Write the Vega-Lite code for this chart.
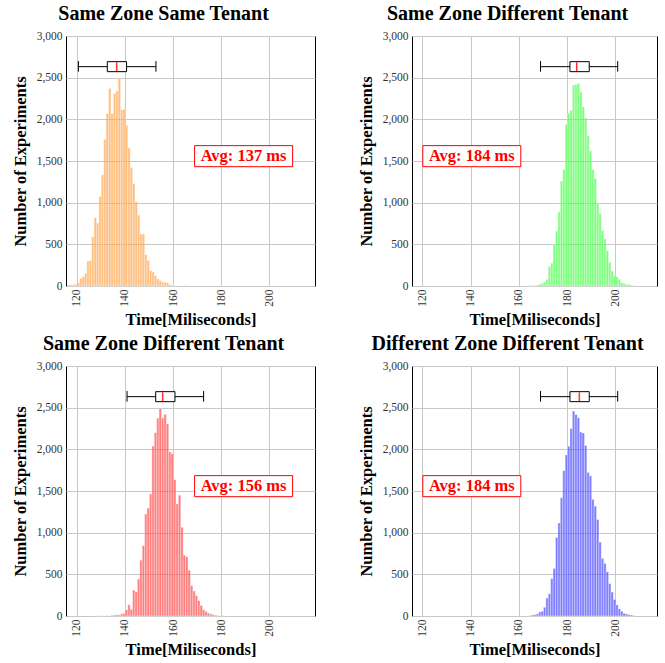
{
  "$schema": "https://vega.github.io/schema/vega-lite/v6.json",
  "padding": {"left": 11, "top": 3, "right": 5, "bottom": 2},
  "background": "white",
  "config": {
    "view": {"stroke": "black", "strokeWidth": 1},
    "bar": {"binSpacing": 0, "fillOpacity": 0.5, "stroke": "white", "strokeWidth": 0.5, "strokeOpacity": 0.7},
    "axis": {"grid": true, "gridColor": "#c8c8c8", "gridWidth": 1, "domain": false, "ticks": false,
      "labelFont": "Liberation Serif", "labelFontSize": 11.5, "labelColor": "#333333",
      "titleFont": "Liberation Serif", "titleFontSize": 16.5, "titleFontWeight": "bold", "titleColor": "black"},
    "title": {"font": "Liberation Serif", "fontSize": 20, "fontWeight": "bold", "color": "black", "frame": "bounds", "anchor": "middle", "offset": 6}
  },
  "datasets": {
    "hist": [
      {"p":"A","t":116,"n":15},{"p":"A","t":117,"n":15},{"p":"A","t":118,"n":15},{"p":"A","t":119,"n":20},{"p":"A","t":120,"n":40},{"p":"A","t":121,"n":90},{"p":"A","t":122,"n":110},{"p":"A","t":123,"n":150},{"p":"A","t":124,"n":300},{"p":"A","t":125,"n":305},{"p":"A","t":126,"n":590},{"p":"A","t":127,"n":820},{"p":"A","t":128,"n":755},{"p":"A","t":129,"n":1075},{"p":"A","t":130,"n":1335},{"p":"A","t":131,"n":1760},{"p":"A","t":132,"n":2070},{"p":"A","t":133,"n":2370},{"p":"A","t":134,"n":2070},{"p":"A","t":135,"n":2310},{"p":"A","t":136,"n":2340},{"p":"A","t":137,"n":2490},{"p":"A","t":138,"n":2115},{"p":"A","t":139,"n":2120},{"p":"A","t":140,"n":1930},{"p":"A","t":141,"n":1660},{"p":"A","t":142,"n":1420},{"p":"A","t":143,"n":1230},{"p":"A","t":144,"n":1010},{"p":"A","t":145,"n":850},{"p":"A","t":146,"n":625},{"p":"A","t":147,"n":625},{"p":"A","t":148,"n":375},{"p":"A","t":149,"n":305},{"p":"A","t":150,"n":185},{"p":"A","t":151,"n":170},{"p":"A","t":152,"n":125},{"p":"A","t":153,"n":85},{"p":"A","t":154,"n":65},{"p":"A","t":155,"n":45},{"p":"A","t":156,"n":45},{"p":"A","t":157,"n":40},{"p":"A","t":158,"n":20},{"p":"A","t":159,"n":10},{"p":"A","t":160,"n":5},{"p":"A","t":165,"n":10},
      {"p":"B","t":164,"n":5},{"p":"B","t":165,"n":6},{"p":"B","t":166,"n":8},{"p":"B","t":167,"n":12},{"p":"B","t":168,"n":20},{"p":"B","t":169,"n":32},{"p":"B","t":170,"n":48},{"p":"B","t":171,"n":80},{"p":"B","t":172,"n":235},{"p":"B","t":173,"n":275},{"p":"B","t":174,"n":500},{"p":"B","t":175,"n":660},{"p":"B","t":176,"n":890},{"p":"B","t":177,"n":1260},{"p":"B","t":178,"n":1400},{"p":"B","t":179,"n":1940},{"p":"B","t":180,"n":2070},{"p":"B","t":181,"n":2110},{"p":"B","t":182,"n":2410},{"p":"B","t":183,"n":2420},{"p":"B","t":184,"n":2430},{"p":"B","t":185,"n":2330},{"p":"B","t":186,"n":2150},{"p":"B","t":187,"n":2015},{"p":"B","t":188,"n":1800},{"p":"B","t":189,"n":1620},{"p":"B","t":190,"n":1395},{"p":"B","t":191,"n":1290},{"p":"B","t":192,"n":990},{"p":"B","t":193,"n":870},{"p":"B","t":194,"n":665},{"p":"B","t":195,"n":565},{"p":"B","t":196,"n":425},{"p":"B","t":197,"n":285},{"p":"B","t":198,"n":180},{"p":"B","t":199,"n":120},{"p":"B","t":200,"n":110},{"p":"B","t":201,"n":80},{"p":"B","t":202,"n":40},{"p":"B","t":203,"n":32},{"p":"B","t":204,"n":20},{"p":"B","t":205,"n":20},{"p":"B","t":206,"n":10},{"p":"B","t":207,"n":5},{"p":"B","t":208,"n":3},
      {"p":"C","t":128,"n":3},{"p":"C","t":130,"n":3},{"p":"C","t":132,"n":5},{"p":"C","t":134,"n":8},{"p":"C","t":135,"n":10},{"p":"C","t":136,"n":15},{"p":"C","t":137,"n":12},{"p":"C","t":138,"n":25},{"p":"C","t":139,"n":30},{"p":"C","t":140,"n":75},{"p":"C","t":141,"n":135},{"p":"C","t":142,"n":80},{"p":"C","t":143,"n":310},{"p":"C","t":144,"n":290},{"p":"C","t":145,"n":445},{"p":"C","t":146,"n":670},{"p":"C","t":147,"n":845},{"p":"C","t":148,"n":1225},{"p":"C","t":149,"n":1295},{"p":"C","t":150,"n":1465},{"p":"C","t":151,"n":2040},{"p":"C","t":152,"n":2200},{"p":"C","t":153,"n":2375},{"p":"C","t":154,"n":2490},{"p":"C","t":155,"n":2375},{"p":"C","t":156,"n":2420},{"p":"C","t":157,"n":2305},{"p":"C","t":158,"n":1970},{"p":"C","t":159,"n":1950},{"p":"C","t":160,"n":1635},{"p":"C","t":161,"n":1345},{"p":"C","t":162,"n":1450},{"p":"C","t":163,"n":1065},{"p":"C","t":164,"n":730},{"p":"C","t":165,"n":710},{"p":"C","t":166,"n":550},{"p":"C","t":167,"n":365},{"p":"C","t":168,"n":300},{"p":"C","t":169,"n":245},{"p":"C","t":170,"n":185},{"p":"C","t":171,"n":125},{"p":"C","t":172,"n":75},{"p":"C","t":173,"n":55},{"p":"C","t":174,"n":35},{"p":"C","t":175,"n":25},{"p":"C","t":176,"n":15},{"p":"C","t":177,"n":10},{"p":"C","t":178,"n":5},{"p":"C","t":180,"n":5},
      {"p":"D","t":164,"n":5},{"p":"D","t":165,"n":12},{"p":"D","t":166,"n":16},{"p":"D","t":167,"n":24},{"p":"D","t":168,"n":49},{"p":"D","t":169,"n":57},{"p":"D","t":170,"n":105},{"p":"D","t":171,"n":215},{"p":"D","t":172,"n":267},{"p":"D","t":173,"n":449},{"p":"D","t":174,"n":570},{"p":"D","t":175,"n":942},{"p":"D","t":176,"n":1116},{"p":"D","t":177,"n":1419},{"p":"D","t":178,"n":1743},{"p":"D","t":179,"n":1933},{"p":"D","t":180,"n":2038},{"p":"D","t":181,"n":2248},{"p":"D","t":182,"n":2459},{"p":"D","t":183,"n":2418},{"p":"D","t":184,"n":2378},{"p":"D","t":185,"n":2208},{"p":"D","t":186,"n":2196},{"p":"D","t":187,"n":2046},{"p":"D","t":188,"n":1723},{"p":"D","t":189,"n":1682},{"p":"D","t":190,"n":1399},{"p":"D","t":191,"n":1318},{"p":"D","t":192,"n":1157},{"p":"D","t":193,"n":886},{"p":"D","t":194,"n":691},{"p":"D","t":195,"n":631},{"p":"D","t":196,"n":530},{"p":"D","t":197,"n":388},{"p":"D","t":198,"n":287},{"p":"D","t":199,"n":198},{"p":"D","t":200,"n":133},{"p":"D","t":201,"n":85},{"p":"D","t":202,"n":57},{"p":"D","t":203,"n":32},{"p":"D","t":204,"n":24},{"p":"D","t":205,"n":16},{"p":"D","t":206,"n":12},{"p":"D","t":207,"n":5}
    ],
    "box": [
      {"p":"A","lo":120.7,"q1":132.7,"med":136.6,"q3":140.7,"hi":152.9},
      {"p":"B","lo":169,"q1":181.2,"med":184,"q3":189.2,"hi":201},
      {"p":"C","lo":140.9,"q1":152.8,"med":155.7,"q3":160.8,"hi":172.7},
      {"p":"D","lo":169,"q1":181.2,"med":185.1,"q3":189.2,"hi":201}
    ],
    "avg": [
      {"p":"A","label":"Avg: 137 ms"},
      {"p":"B","label":"Avg: 184 ms"},
      {"p":"C","label":"Avg: 156 ms"},
      {"p":"D","label":"Avg: 184 ms"}
    ]
  },
  "columns": 2,
  "spacing": {"row": 4, "column": 41},
  "concat": [
    {
      "title": "Same Zone Same Tenant",
      "width": 249, "height": 250,
      "layer": [
        {"data": {"name": "hist"}, "transform": [{"filter": "datum.p === 'A'"}],
         "mark": {"type": "bar", "fill": "#ff8000"},
         "encoding": {
           "x": {"field": "t", "type": "quantitative", "bin": {"binned": true, "step": 1}, "title": "Time[Miliseconds]",
                 "scale": {"domain": [115.55, 218.95], "nice": false, "zero": false},
                 "axis": {"values": [120,140,160,180,200], "labelAngle": -90, "labelPadding": 3, "titlePadding": 5}},
           "y": {"field": "n", "type": "quantitative", "title": "Number of Experiments",
                 "scale": {"domain": [0, 3000], "nice": false},
                 "axis": {"values": [0,500,1000,1500,2000,2500,3000], "format": ",.0f", "labelPadding": 4, "titlePadding": 8}}
         }},
        {"data": {"name": "box"}, "transform": [{"filter": "datum.p === 'A'"}],
         "mark": {"type": "rule", "color": "black", "strokeWidth": 1},
         "encoding": {"x": {"field": "lo", "type": "quantitative"}, "x2": {"field": "hi"}, "y": {"datum": 2632}}},
        {"data": {"name": "box"}, "transform": [{"filter": "datum.p === 'A'"}],
         "mark": {"type": "rule", "color": "black", "strokeWidth": 1},
         "encoding": {"x": {"field": "lo", "type": "quantitative"}, "y": {"datum": 2572}, "y2": {"datum": 2700}}},
        {"data": {"name": "box"}, "transform": [{"filter": "datum.p === 'A'"}],
         "mark": {"type": "rule", "color": "black", "strokeWidth": 1},
         "encoding": {"x": {"field": "hi", "type": "quantitative"}, "y": {"datum": 2572}, "y2": {"datum": 2700}}},
        {"data": {"name": "box"}, "transform": [{"filter": "datum.p === 'A'"}],
         "mark": {"type": "rect", "fill": "white", "stroke": "black", "strokeWidth": 1},
         "encoding": {"x": {"field": "q1", "type": "quantitative"}, "x2": {"field": "q3"}, "y": {"datum": 2572}, "y2": {"datum": 2692}}},
        {"data": {"name": "box"}, "transform": [{"filter": "datum.p === 'A'"}],
         "mark": {"type": "rule", "color": "#ff3030", "strokeWidth": 1.5},
         "encoding": {"x": {"field": "med", "type": "quantitative"}, "y": {"datum": 2580}, "y2": {"datum": 2685}}},
        {"data": {"name": "avg"}, "transform": [{"filter": "datum.p === 'A'"}],
         "mark": {"type": "point", "shape": "M-1,-0.215L1,-0.215L1,0.215L-1,0.215Z", "size": 9604, "fill": "white", "stroke": "red", "strokeWidth": 1, "opacity": 1, "fillOpacity": 1},
         "encoding": {"x": {"datum": 189.3}, "y": {"datum": 1558}}},
        {"data": {"name": "avg"}, "transform": [{"filter": "datum.p === 'A'"}],
         "mark": {"type": "text", "color": "red", "font": "Liberation Serif", "fontSize": 16.5, "fontWeight": "bold", "align": "center", "baseline": "middle"},
         "encoding": {"x": {"datum": 189.3}, "y": {"datum": 1558}, "text": {"field": "label"}}}
      ]
    },
    {
      "title": "Same Zone Different Tenant",
      "width": 245, "height": 250,
      "layer": [
        {"data": {"name": "hist"}, "transform": [{"filter": "datum.p === 'B'"}],
         "mark": {"type": "bar", "fill": "#00ff00"},
         "encoding": {
           "x": {"field": "t", "type": "quantitative", "bin": {"binned": true, "step": 1}, "title": "Time[Miliseconds]",
                 "scale": {"domain": [115.7, 217.3], "nice": false, "zero": false},
                 "axis": {"values": [120,140,160,180,200], "labelAngle": -90, "labelPadding": 3, "titlePadding": 5}},
           "y": {"field": "n", "type": "quantitative", "title": "Number of Experiments",
                 "scale": {"domain": [0, 3000], "nice": false},
                 "axis": {"values": [0,500,1000,1500,2000,2500,3000], "format": ",.0f", "labelPadding": 4, "titlePadding": 8}}
         }},
        {"data": {"name": "box"}, "transform": [{"filter": "datum.p === 'B'"}],
         "mark": {"type": "rule", "color": "black", "strokeWidth": 1},
         "encoding": {"x": {"field": "lo", "type": "quantitative"}, "x2": {"field": "hi"}, "y": {"datum": 2632}}},
        {"data": {"name": "box"}, "transform": [{"filter": "datum.p === 'B'"}],
         "mark": {"type": "rule", "color": "black", "strokeWidth": 1},
         "encoding": {"x": {"field": "lo", "type": "quantitative"}, "y": {"datum": 2572}, "y2": {"datum": 2700}}},
        {"data": {"name": "box"}, "transform": [{"filter": "datum.p === 'B'"}],
         "mark": {"type": "rule", "color": "black", "strokeWidth": 1},
         "encoding": {"x": {"field": "hi", "type": "quantitative"}, "y": {"datum": 2572}, "y2": {"datum": 2700}}},
        {"data": {"name": "box"}, "transform": [{"filter": "datum.p === 'B'"}],
         "mark": {"type": "rect", "fill": "white", "stroke": "black", "strokeWidth": 1},
         "encoding": {"x": {"field": "q1", "type": "quantitative"}, "x2": {"field": "q3"}, "y": {"datum": 2572}, "y2": {"datum": 2692}}},
        {"data": {"name": "box"}, "transform": [{"filter": "datum.p === 'B'"}],
         "mark": {"type": "rule", "color": "#ff3030", "strokeWidth": 1.5},
         "encoding": {"x": {"field": "med", "type": "quantitative"}, "y": {"datum": 2580}, "y2": {"datum": 2685}}},
        {"data": {"name": "avg"}, "transform": [{"filter": "datum.p === 'B'"}],
         "mark": {"type": "point", "shape": "M-1,-0.215L1,-0.215L1,0.215L-1,0.215Z", "size": 9604, "fill": "white", "stroke": "red", "strokeWidth": 1, "opacity": 1, "fillOpacity": 1},
         "encoding": {"x": {"datum": 140.5}, "y": {"datum": 1558}}},
        {"data": {"name": "avg"}, "transform": [{"filter": "datum.p === 'B'"}],
         "mark": {"type": "text", "color": "red", "font": "Liberation Serif", "fontSize": 16.5, "fontWeight": "bold", "align": "center", "baseline": "middle"},
         "encoding": {"x": {"datum": 140.5}, "y": {"datum": 1558}, "text": {"field": "label"}}}
      ]
    },
    {
      "title": "Same Zone Different Tenant",
      "width": 249, "height": 250,
      "layer": [
        {"data": {"name": "hist"}, "transform": [{"filter": "datum.p === 'C'"}],
         "mark": {"type": "bar", "fill": "#ff0000"},
         "encoding": {
           "x": {"field": "t", "type": "quantitative", "bin": {"binned": true, "step": 1}, "title": "Time[Miliseconds]",
                 "scale": {"domain": [115.55, 218.95], "nice": false, "zero": false},
                 "axis": {"values": [120,140,160,180,200], "labelAngle": -90, "labelPadding": 3, "titlePadding": 5}},
           "y": {"field": "n", "type": "quantitative", "title": "Number of Experiments",
                 "scale": {"domain": [0, 3000], "nice": false},
                 "axis": {"values": [0,500,1000,1500,2000,2500,3000], "format": ",.0f", "labelPadding": 4, "titlePadding": 8}}
         }},
        {"data": {"name": "box"}, "transform": [{"filter": "datum.p === 'C'"}],
         "mark": {"type": "rule", "color": "black", "strokeWidth": 1},
         "encoding": {"x": {"field": "lo", "type": "quantitative"}, "x2": {"field": "hi"}, "y": {"datum": 2632}}},
        {"data": {"name": "box"}, "transform": [{"filter": "datum.p === 'C'"}],
         "mark": {"type": "rule", "color": "black", "strokeWidth": 1},
         "encoding": {"x": {"field": "lo", "type": "quantitative"}, "y": {"datum": 2572}, "y2": {"datum": 2700}}},
        {"data": {"name": "box"}, "transform": [{"filter": "datum.p === 'C'"}],
         "mark": {"type": "rule", "color": "black", "strokeWidth": 1},
         "encoding": {"x": {"field": "hi", "type": "quantitative"}, "y": {"datum": 2572}, "y2": {"datum": 2700}}},
        {"data": {"name": "box"}, "transform": [{"filter": "datum.p === 'C'"}],
         "mark": {"type": "rect", "fill": "white", "stroke": "black", "strokeWidth": 1},
         "encoding": {"x": {"field": "q1", "type": "quantitative"}, "x2": {"field": "q3"}, "y": {"datum": 2572}, "y2": {"datum": 2692}}},
        {"data": {"name": "box"}, "transform": [{"filter": "datum.p === 'C'"}],
         "mark": {"type": "rule", "color": "#ff3030", "strokeWidth": 1.5},
         "encoding": {"x": {"field": "med", "type": "quantitative"}, "y": {"datum": 2580}, "y2": {"datum": 2685}}},
        {"data": {"name": "avg"}, "transform": [{"filter": "datum.p === 'C'"}],
         "mark": {"type": "point", "shape": "M-1,-0.215L1,-0.215L1,0.215L-1,0.215Z", "size": 9604, "fill": "white", "stroke": "red", "strokeWidth": 1, "opacity": 1, "fillOpacity": 1},
         "encoding": {"x": {"datum": 189.3}, "y": {"datum": 1558}}},
        {"data": {"name": "avg"}, "transform": [{"filter": "datum.p === 'C'"}],
         "mark": {"type": "text", "color": "red", "font": "Liberation Serif", "fontSize": 16.5, "fontWeight": "bold", "align": "center", "baseline": "middle"},
         "encoding": {"x": {"datum": 189.3}, "y": {"datum": 1558}, "text": {"field": "label"}}}
      ]
    },
    {
      "title": "Different Zone Different Tenant",
      "width": 245, "height": 250,
      "layer": [
        {"data": {"name": "hist"}, "transform": [{"filter": "datum.p === 'D'"}],
         "mark": {"type": "bar", "fill": "#0000ff"},
         "encoding": {
           "x": {"field": "t", "type": "quantitative", "bin": {"binned": true, "step": 1}, "title": "Time[Miliseconds]",
                 "scale": {"domain": [115.7, 217.3], "nice": false, "zero": false},
                 "axis": {"values": [120,140,160,180,200], "labelAngle": -90, "labelPadding": 3, "titlePadding": 5}},
           "y": {"field": "n", "type": "quantitative", "title": "Number of Experiments",
                 "scale": {"domain": [0, 3000], "nice": false},
                 "axis": {"values": [0,500,1000,1500,2000,2500,3000], "format": ",.0f", "labelPadding": 4, "titlePadding": 8}}
         }},
        {"data": {"name": "box"}, "transform": [{"filter": "datum.p === 'D'"}],
         "mark": {"type": "rule", "color": "black", "strokeWidth": 1},
         "encoding": {"x": {"field": "lo", "type": "quantitative"}, "x2": {"field": "hi"}, "y": {"datum": 2632}}},
        {"data": {"name": "box"}, "transform": [{"filter": "datum.p === 'D'"}],
         "mark": {"type": "rule", "color": "black", "strokeWidth": 1},
         "encoding": {"x": {"field": "lo", "type": "quantitative"}, "y": {"datum": 2572}, "y2": {"datum": 2700}}},
        {"data": {"name": "box"}, "transform": [{"filter": "datum.p === 'D'"}],
         "mark": {"type": "rule", "color": "black", "strokeWidth": 1},
         "encoding": {"x": {"field": "hi", "type": "quantitative"}, "y": {"datum": 2572}, "y2": {"datum": 2700}}},
        {"data": {"name": "box"}, "transform": [{"filter": "datum.p === 'D'"}],
         "mark": {"type": "rect", "fill": "white", "stroke": "black", "strokeWidth": 1},
         "encoding": {"x": {"field": "q1", "type": "quantitative"}, "x2": {"field": "q3"}, "y": {"datum": 2572}, "y2": {"datum": 2692}}},
        {"data": {"name": "box"}, "transform": [{"filter": "datum.p === 'D'"}],
         "mark": {"type": "rule", "color": "#ff3030", "strokeWidth": 1.5},
         "encoding": {"x": {"field": "med", "type": "quantitative"}, "y": {"datum": 2580}, "y2": {"datum": 2685}}},
        {"data": {"name": "avg"}, "transform": [{"filter": "datum.p === 'D'"}],
         "mark": {"type": "point", "shape": "M-1,-0.215L1,-0.215L1,0.215L-1,0.215Z", "size": 9604, "fill": "white", "stroke": "red", "strokeWidth": 1, "opacity": 1, "fillOpacity": 1},
         "encoding": {"x": {"datum": 140.5}, "y": {"datum": 1558}}},
        {"data": {"name": "avg"}, "transform": [{"filter": "datum.p === 'D'"}],
         "mark": {"type": "text", "color": "red", "font": "Liberation Serif", "fontSize": 16.5, "fontWeight": "bold", "align": "center", "baseline": "middle"},
         "encoding": {"x": {"datum": 140.5}, "y": {"datum": 1558}, "text": {"field": "label"}}}
      ]
    }
  ]
}
